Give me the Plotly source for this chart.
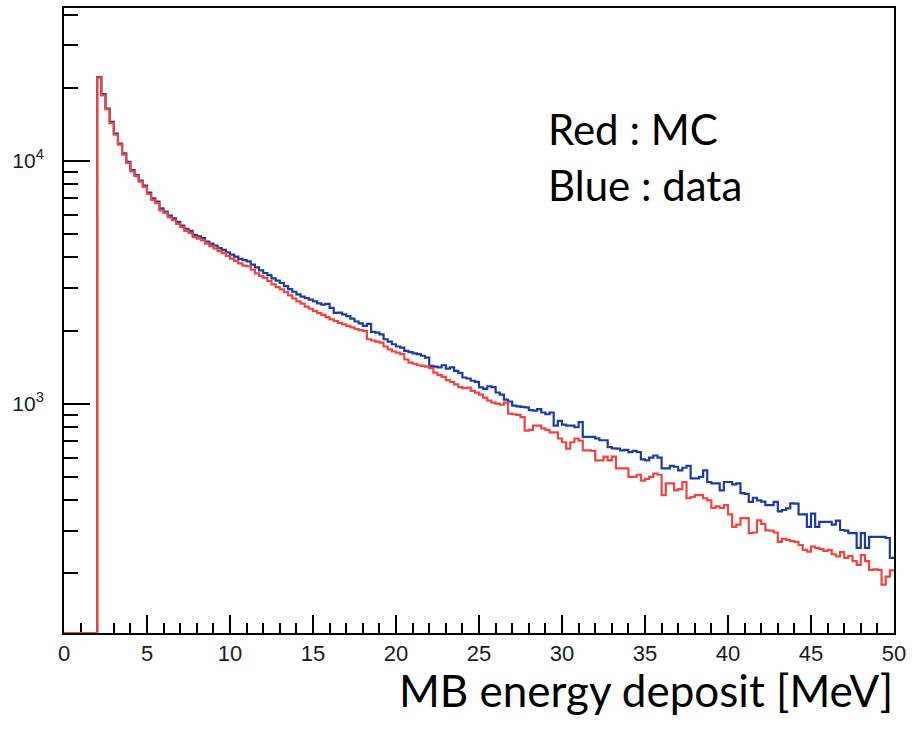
import numpy as np
import plotly.graph_objects as go

# ---------------- data ----------------
BIN_START = 2.0      # MeV, first filled bin edge
BIN_WIDTH = 0.25     # MeV
X_RANGE = [0, 50]
Y_RANGE_LOG = [2.056, 4.629]   # log10 of the y-axis limits

# Blue : data  (counts per 0.25 MeV bin, 2 .. 50 MeV)
data_counts = [
    22100, 18800, 16400, 14450, 12940, 11780, 10720, 9910,
    9160, 8740, 8280, 7900, 7400, 7000, 6790, 6370,
    6180, 5950, 5800, 5600, 5410, 5250, 5150, 4950,
    4880, 4800, 4650, 4560, 4480, 4370, 4300, 4200,
    4105, 4030, 3950, 3900,
    3855, 3740, 3640, 3540,
    3452, 3380, 3280, 3210,
    3140, 3050, 2960, 2890,
    2820, 2760, 2720, 2680,
    2640, 2590, 2560, 2578,
    2480, 2366, 2370, 2330,
    2295, 2240, 2180, 2140,
    2090, 2130, 1977, 1960,
    1930, 1842, 1800, 1757,
    1720, 1702, 1649, 1630,
    1610, 1600, 1575, 1549,
    1432, 1420, 1410, 1440,
    1395, 1410, 1365, 1340,
    1282, 1270, 1243, 1230,
    1167, 1150, 1180, 1170,
    1112, 1090, 1040, 1021,
    981, 975, 970, 966,
    940, 936, 950, 920,
    905, 920, 813, 850,
    820, 813, 812, 800,
    840, 730, 730, 730,
    720, 707, 707, 663,
    655, 653, 642, 645,
    632, 640, 632, 590,
    584, 600, 612, 600,
    542, 542, 555, 550,
    531, 545, 555, 493,
    493, 500, 531, 476,
    470, 470, 440, 476,
    476, 465, 470, 428,
    425, 394, 410, 400,
    395, 382, 382, 394,
    360, 365, 371, 389,
    388, 350, 350, 311,
    353, 311, 326, 326,
    326, 318, 330, 302,
    300, 293, 293, 255,
    293, 255, 283, 283,
    283, 283, 280, 232,
]

# Red : MC
mc_counts = [
    22000, 18600, 16300, 14300, 12800, 11650, 10600, 9800,
    9050, 8650, 8200, 7800, 7300, 6900, 6700, 6250,
    6100, 5850, 5700, 5500, 5330, 5150, 5050, 4850,
    4780, 4700, 4560, 4450, 4360, 4250, 4170, 4060,
    3955, 3870, 3780, 3700,
    3680, 3560, 3440, 3360,
    3296, 3200, 3100, 3020,
    2953, 2880, 2790, 2710,
    2640, 2580, 2510, 2460,
    2404, 2360, 2320, 2270,
    2223, 2190, 2150, 2120,
    2090, 2060, 2030, 2010,
    1992, 1842, 1820, 1800,
    1783, 1720, 1675, 1640,
    1622, 1600, 1520, 1476,
    1460, 1440, 1432, 1420,
    1400, 1343, 1310, 1290,
    1250, 1230, 1200, 1170,
    1160, 1165, 1130, 1110,
    1090, 1060, 1030, 1010,
    1000, 990, 1010, 910,
    905, 900, 880, 775,
    780, 813, 813, 791,
    780, 762, 762, 719,
    694, 653, 694, 719,
    705, 642, 642, 640,
    584, 584, 605, 584,
    605, 542, 542, 542,
    500, 500, 510, 482,
    490, 500, 516, 510,
    420, 470, 470, 440,
    445, 476, 408, 413,
    420, 420, 408, 400,
    372, 378, 372, 382,
    350, 311, 318, 338,
    338, 293, 295, 331,
    320, 301, 300, 295,
    270, 278, 275, 272,
    270, 262, 250, 246,
    258, 255, 252, 248,
    250, 240, 235, 245,
    232, 236, 225, 217,
    238, 225, 207, 208,
    207, 180, 194, 206,
]

y_major_ticks = [1000, 10000]
y_major_text = ["10<sup>3</sup>", "10<sup>4</sup>"]
y_minor_ticks = [200, 300, 400, 500, 600, 700, 800, 900,
                 2000, 3000, 4000, 5000, 6000, 7000, 8000, 9000,
                 20000, 30000, 40000]

legend_lines = ["Red : MC", "Blue : data"]
x_title = "MB energy deposit [MeV]"

BLUE = "#1b3ca4"
RED = "#f0443f"

# ---------------- figure ----------------
y_floor = 10 ** Y_RANGE_LOG[0]


def outline(counts):
    edges = BIN_START + BIN_WIDTH * np.arange(len(counts) + 1)
    xs = [X_RANGE[0]] + list(edges[:-1]) + [edges[-1]]
    ys = [y_floor] + list(counts) + [counts[-1]]
    return xs, ys


fig = go.Figure()
for counts, color, name in [(data_counts, BLUE, "data"), (mc_counts, RED, "MC")]:
    xs, ys = outline(counts)
    fig.add_trace(go.Scatter(x=xs, y=ys, mode="lines", line_shape="hv",
                             line=dict(color=color, width=2.2), name=name,
                             showlegend=False))

x_tick_font = dict(family="Liberation Sans, Arial, sans-serif", size=22, color="#1a1a1a")
y_tick_font = dict(family="Liberation Sans, Arial, sans-serif", size=21, color="#1a1a1a")

fig.update_layout(
    width=912, height=738,
    margin=dict(l=64, r=18, t=6, b=105),
    paper_bgcolor="white", plot_bgcolor="white",
    xaxis=dict(range=X_RANGE, tick0=0, dtick=5, ticks="inside", ticklen=18,
               tickwidth=1.5, tickcolor="black", showline=True, linewidth=2,
               linecolor="black", mirror=True, showgrid=False, zeroline=False,
               tickfont=x_tick_font, layer="below traces",
               minor=dict(dtick=1, ticks="inside", ticklen=10, tickwidth=1.5,
                          tickcolor="black", showgrid=False)),
    yaxis=dict(type="log", range=Y_RANGE_LOG, tickmode="array",
               tickvals=y_major_ticks, ticktext=y_major_text,
               ticks="inside", ticklen=26, tickwidth=1.5, tickcolor="black",
               showline=True, linewidth=2, linecolor="black", mirror=True,
               showgrid=False, zeroline=False, tickfont=y_tick_font,
               ticklabelstandoff=14, layer="below traces",
               minor=dict(tickmode="array", tickvals=y_minor_ticks,
                          ticks="inside", ticklen=14, tickwidth=1.5,
                          tickcolor="black", showgrid=False)),
)

text_font = dict(family="Lato, 'Open Sans', sans-serif", size=42, color="black")
fig.add_annotation(text=legend_lines[0], xref="paper", yref="paper",
                   x=0.581, y=0.806, xanchor="left", yanchor="middle",
                   showarrow=False, font=text_font)
fig.add_annotation(text=legend_lines[1], xref="paper", yref="paper",
                   x=0.581, y=0.717, xanchor="left", yanchor="middle",
                   showarrow=False, font=text_font)
fig.add_annotation(text=x_title, xref="paper", yref="paper",
                   x=1.0, y=0, xanchor="right", yanchor="top", yshift=-30,
                   borderpad=0, showarrow=False,
                   font=dict(family="Lato, 'Open Sans', sans-serif", size=44,
                             color="black"))

fig.write_html("out.html")
